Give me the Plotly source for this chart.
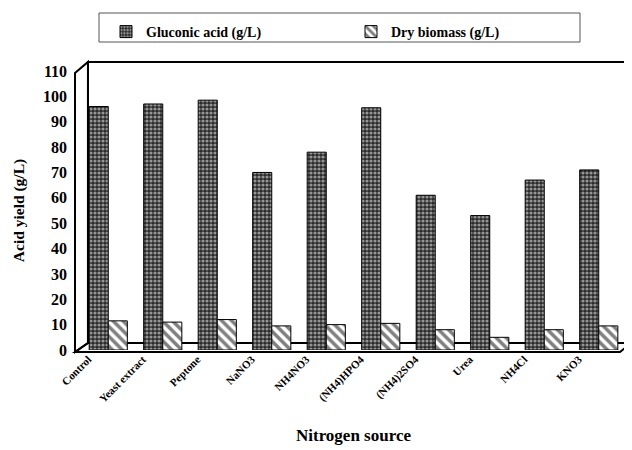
import plotly.graph_objects as go

categories = ["Control", "Yeast extract", "Peptone", "NaNO3", "NH4NO3", "(NH4)HPO4",
              "(NH4)2SO4", "Urea", "NH4Cl", "KNO3"]
gluconic_acid = [96, 97, 98.5, 70, 78, 95.5, 61, 53, 67, 71]
dry_biomass = [11.5, 11, 12, 9.5, 10, 10.5, 8, 5, 8, 9.5]
y_ticks = [0, 10, 20, 30, 40, 50, 60, 70, 80, 90, 100, 110]

# the page body adds an 8px margin, so the figure is drawn 8px in from the window corner
OFF = 8
W, H = 632 - OFF, 450 - OFF
L, T = 81 - OFF, 71 - OFF
PW, PH = 545, 279
R, B = W - L - PW, H - T - PH


def px(x):  # window pixel -> paper
    return (x - OFF - L) / PW


def py(y):
    return (T + PH - (y - OFF)) / PH


def path(points):
    return "M " + " L ".join(f"{px(x):.4f},{py(y):.4f}" for x, y in points) + " Z"


serif = "Liberation Serif, Times New Roman, Times, serif"

fig = go.Figure()
fig.add_trace(go.Bar(
    x=categories, y=gluconic_acid, name="Gluconic acid (g/L)",
    marker=dict(color="#2a2a2a", line=dict(color="black", width=1),
                pattern=dict(shape=".", fgcolor="white", bgcolor="#2a2a2a",
                             size=4, solidity=0.5)),
))
fig.add_trace(go.Bar(
    x=categories, y=dry_biomass, name="Dry biomass (g/L)",
    marker=dict(color="white", line=dict(color="black", width=1),
                pattern=dict(shape="\\", fgcolor="black", bgcolor="white",
                             size=7, solidity=0.5)),
))

shapes = [
    # back wall
    dict(type="path", path=path([(88, 62), (632, 62), (632, 343), (88, 343)]),
         xref="paper", yref="paper", line=dict(color="black", width=2), layer="below"),
    # left wall
    dict(type="path", path=path([(75, 352), (75, 73), (88, 62), (88, 343)]),
         xref="paper", yref="paper", line=dict(color="black", width=2), layer="below"),
    # floor
    dict(type="path", path=path([(75, 352), (88, 343), (631, 343), (620, 352)]),
         xref="paper", yref="paper", line=dict(color="black", width=2), layer="below"),
    # legend box
    dict(type="rect", x0=px(99), x1=px(580), y0=py(42), y1=py(13),
         xref="paper", yref="paper", line=dict(color="#555", width=1)),
]

fig.update_layout(
    width=W, height=H,
    margin=dict(l=L, r=R, t=T, b=B, autoexpand=False),
    paper_bgcolor="white", plot_bgcolor="rgba(0,0,0,0)",
    barmode="group", bargap=0.30, bargroupgap=0.0,
    font=dict(family=serif, color="black", weight="bold"),
    showlegend=True,
    legend=dict(orientation="h", x=px(106), y=py(16), xanchor="left", yanchor="top",
                bgcolor="rgba(0,0,0,0)", borderwidth=0,
                font=dict(family=serif, size=14, weight="bold"),
                entrywidth=200, entrywidthmode="pixels", itemwidth=30),
    shapes=shapes,
    xaxis=dict(showline=False, showgrid=False, zeroline=False, ticks="",
               tickangle=-45, ticklabelshift=-20,
               tickfont=dict(family=serif, size=11, weight="bold"),
               title=dict(text="Nitrogen source", standoff=25,
                          font=dict(family=serif, size=17, weight="bold"))),
    yaxis=dict(range=[0, 110], tickvals=y_ticks, showline=False, showgrid=False,
               zeroline=False, ticks="", ticklabelstandoff=13,
               tickfont=dict(family=serif, size=16, weight="bold"),
               title=dict(text="Acid yield (g/L)", standoff=14,
                          font=dict(family=serif, size=15.5, weight="bold"))),
)

fig.write_html("out.html")
